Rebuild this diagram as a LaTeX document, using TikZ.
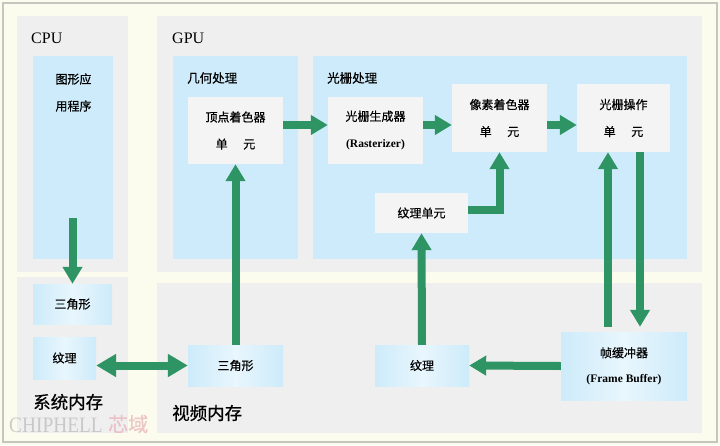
\documentclass[tikz,border=0pt]{standalone}
\usepackage{fontspec}
\setmainfont{Liberation Serif}
\newfontfamily\cjk[FakeBold=0.6]{Noto Sans CJK SC}
\usetikzlibrary{arrows.meta,calc}
\definecolor{bgcream}{HTML}{FBFBEE}
\definecolor{panelgray}{HTML}{EFEFEF}
\definecolor{paneblue}{HTML}{CDEBFA}
\definecolor{boxgray}{HTML}{F4F4F4}
\definecolor{arrgreen}{HTML}{2E9464}
\definecolor{framegray}{HTML}{C6C6BE}
\definecolor{wmpink}{HTML}{E7A8B0}
\definecolor{wmgray}{HTML}{A8A8A8}
\tikzset{
  panel/.style={fill=panelgray, draw=none, inner sep=0, anchor=north west},
  bluepane/.style={fill=paneblue, draw=none, inner sep=0, anchor=north west},
  unitbox/.style={fill=boxgray, draw=none, inner sep=0, align=center,
    font=\cjk\fontsize{12}{27}\selectfont},
  membox/.style={left color=paneblue, right color=paneblue, middle color=white!55!paneblue,
    draw=none, inner sep=0, align=center, font=\cjk\fontsize{12}{25}\selectfont},
  title/.style={anchor=west, inner sep=0, font=\fontsize{16}{16}\selectfont},
  sublabel/.style={anchor=west, inner sep=0, font=\cjk\fontsize{12.5}{12.5}\selectfont},
  memlabel/.style={anchor=west, inner sep=0, font=\cjk\fontsize{17.5}{17.5}\selectfont},
  arr/.style={draw=arrgreen, line width=8pt, -{Triangle[width=19pt,length=17pt]}},
  dblarr/.style={draw=arrgreen, line width=8pt,
    {Triangle[width=22pt,length=20pt]}-{Triangle[width=22pt,length=20pt]}}
}
\begin{document}
\begin{tikzpicture}[x=1pt,y=-1pt]
\useasboundingbox (0,0) rectangle (720,445);
\fill[bgcream] (0,0) rectangle (720,445);
\draw[framegray, line width=1.5pt] (3,3) rectangle (717,442);

% panels
\node[panel, minimum width=111, minimum height=256] (cpupanel) at (17,16) {};
\node[panel, minimum width=545, minimum height=256] (gpupanel) at (157,16) {};
\node[panel, minimum width=111, minimum height=156] (syspanel) at (17,277) {};
\node[panel, minimum width=545, minimum height=150] (vidpanel) at (157,283) {};

% blue panes
\node[bluepane, minimum width=80, minimum height=203] (cpublue) at (33,56) {};
\node[bluepane, minimum width=125, minimum height=203] (geoblue) at (173,56) {};
\node[bluepane, minimum width=374, minimum height=203] (rasblue) at (313,56) {};

% titles
\node[title] (cpulbl) at (31,38) {CPU};
\node[title] (gpulbl) at (172,38) {GPU};
\node[sublabel] (geolbl) at (187,78) {几何处理};
\node[sublabel] (raslbl) at (327,78) {光栅处理};
\node[align=center, inner sep=0, font=\cjk\fontsize{12}{27}\selectfont] (app) at (73.5,92.5) {图形应\\用程序};
\node[memlabel] (syslbl) at (33,402) {系统内存};
\node[memlabel] (vidlbl) at (172,413) {视频内存};

% watermark
\node[anchor=west, inner sep=0, opacity=0.55, text=wmgray, xscale=0.88,
  font=\fontsize{22}{22}\selectfont] (wm1) at (9,425) {CHIPHELL};
\node[anchor=west, inner sep=0, opacity=0.6, text=wmpink,
  font=\cjk\fontsize{20}{20}\selectfont] (wm2) at (108,424) {芯域};

% unit boxes
\node[unitbox, minimum width=95, minimum height=67] (vs) at (235.5,130.5) {顶点着色器\\单\hspace{1.3em}元};
\node[unitbox, minimum width=95, minimum height=67] (rg) at (375.5,130.5) {光栅生成器\\{\rmfamily\bfseries\fontsize{11.5}{27}\selectfont (Rasterizer)}};
\node[unitbox, minimum width=95, minimum height=68] (ps) at (499.5,118) {像素着色器\\单\hspace{1.3em}元};
\node[unitbox, minimum width=93, minimum height=68] (rop) at (623.5,118) {光栅操作\\单\hspace{1.3em}元};
\node[unitbox, minimum width=93, minimum height=40] (tu) at (421.5,213) {纹理单元};

% memory boxes
\node[membox, minimum width=79, minimum height=40] (tri1) at (72.5,304) {三角形};
\node[membox, minimum width=63, minimum height=42] (tex1) at (64.5,358) {纹理};
\node[membox, minimum width=95, minimum height=41] (tri2) at (235.5,365.5) {三角形};
\node[membox, minimum width=94, minimum height=41] (tex2) at (422,365.5) {纹理};
\node[membox, minimum width=126, minimum height=68] (fb) at (624,366) {帧缓冲器\\{\rmfamily\bfseries\fontsize{11.5}{25}\selectfont (Frame Buffer)}};

% connectors
\coordinate (cpustart) at (72.5,218);
\draw[arr] (cpustart) -- (tri1.north);
\draw[dblarr] (tri2.west -| tex1.east) -- (tri2.west);
\draw[arr] (tri2.north) -- (vs.south);
\draw[arr] ([yshift=5.5pt]vs.east) -- ([yshift=5.5pt]rg.west);
\draw[arr] ([yshift=5.5pt]rg.east) -- ([yshift=5.5pt]rg.east -| ps.west);
\draw[arr] ([yshift=-7pt]ps.east) -- ([yshift=-7pt]rop.west);
\draw[arr] ([yshift=3pt]tu.east) -| (ps.south);
\draw[arr] (tex2.north) -- (tu.south);
\draw[arr] ([xshift=-16pt,yshift=5pt]fb.north) -- ([xshift=-15.5pt]rop.south);
\draw[arr] ([xshift=16.5pt]rop.south) -- ([xshift=16pt,yshift=5pt]fb.north);
\draw[arr] (fb.west) -- (tex2.east);
\end{tikzpicture}
\end{document}
